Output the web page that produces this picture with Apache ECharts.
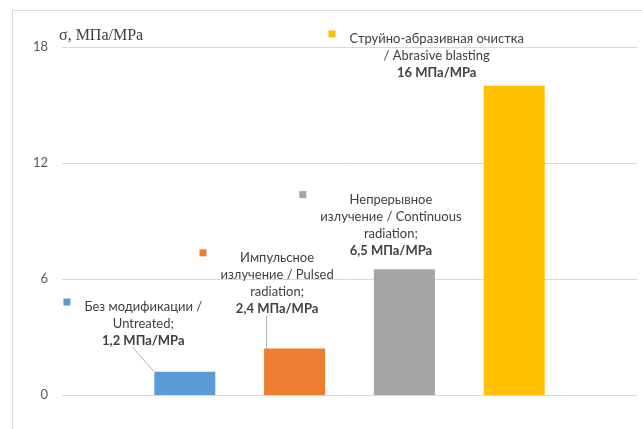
<!DOCTYPE html>
<html>
<head>
<meta charset="utf-8">
<script src="https://cdn.jsdelivr.net/npm/echarts@6/dist/echarts.min.js"></script>
<style>html,body{margin:0;padding:0;background:#fff;}#c{width:642px;height:429px;}</style>
</head>
<body>
<div id="c"></div>
<script>
const categories = [''];
const seriesNames = [
  'Без модификации / Untreated',
  'Импульсное излучение / Pulsed radiation',
  'Непрерывное излучение / Continuous radiation',
  'Струйно-абразивная очистка / Abrasive blasting'
];
const values = [1.2, 2.4, 6.5, 16];
const nameLines = [
  ['Без модификации /', 'Untreated;'],
  ['Импульсное', 'излучение / Pulsed', 'radiation;'],
  ['Непрерывное', 'излучение / Continuous', 'radiation;'],
  ['Струйно-абразивная очистка', '/ Abrasive blasting']
];
const valueLabels = ['1,2 МПа/MPa', '2,4 МПа/MPa', '6,5 МПа/MPa', '16 МПа/MPa'];
const yMin = 0, yMax = 18, yStep = 6;
const axisTitle = 'σ, МПа/MPa';

const colors = ['#5B9BD5', '#ED7D31', '#A5A5A5', '#FFC000'];
const layouts = [
  { dx: -52, dy: -15, line: true },
  { dx: -28, dy: -24, line: true },
  { dx: -24, dy: -3, line: false },
  { dx: -88, dy: 3, line: false }
];

function makeLabel(i) {
  const lines = [];
  nameLines[i].forEach((t, k) => {
    lines.push((k === 0 ? '{sq|}' : '{sp|}') + '{g|}{t|' + t + '}');
  });
  lines.push('{sp|}{g|}{b|' + valueLabels[i] + '}');
  return lines.join('\n');
}

const series = values.map((v, i) => ({
  name: seriesNames[i],
  type: 'bar',
  data: [v],
  barWidth: 61,
  barGap: '80%',
  itemStyle: { color: colors[i] },
  label: {
    show: true,
    position: 'top',
    distance: 5,
    formatter: () => makeLabel(i),
    rich: {
      sq: { width: 7, height: 7, backgroundColor: colors[i], align: 'left', verticalAlign: 'top', lineHeight: 17 },
      sp: { width: 7, height: 7, align: 'left', lineHeight: 17 },
      g: { width: 14, align: 'left', lineHeight: 17 },
      t: { fontFamily: 'Lato', fontSize: 13, color: '#404040', align: 'center', lineHeight: 17 },
      b: { fontFamily: 'Lato', fontSize: 13, color: '#404040', fontWeight: 'bold', align: 'center', lineHeight: 17 }
    }
  },
  labelLayout: function (p) {
    return {
      x: p.labelRect.x + p.labelRect.width / 2 + layouts[i].dx,
      y: p.labelRect.y + p.labelRect.height / 2 + layouts[i].dy,
      align: 'center',
      verticalAlign: 'middle'
    };
  },
  labelLine: { show: layouts[i].line, lineStyle: { color: '#B4B4B4', width: 1 } }
}));

const chart = echarts.init(document.getElementById('c'));
chart.setOption({
  animation: false,
  backgroundColor: '#fff',
  graphic: [{
    type: 'rect', silent: true, z: -1,
    shape: { x: 12.5, y: 10.5, width: 700, height: 500 },
    style: { fill: 'none', stroke: '#D9D9D9', lineWidth: 1 }
  }],
  title: {
    text: axisTitle, left: 54, top: 23,
    textStyle: { fontFamily: 'Liberation Serif', fontSize: 16, fontWeight: 'normal', color: '#404040' }
  },
  grid: { left: 62, right: 5, top: 47, bottom: 34 },
  xAxis: {
    type: 'category', data: categories,
    axisLine: { show: false }, axisTick: { show: false }, axisLabel: { show: false }
  },
  yAxis: {
    type: 'value', min: yMin, max: yMax, interval: yStep,
    axisLine: { show: false }, axisTick: { show: false },
    axisLabel: { fontFamily: 'Lato', fontSize: 13, color: '#595959', margin: 14 },
    splitLine: { lineStyle: { color: '#D9D9D9', width: 1 } }
  },
  series: series
});
</script>
</body>
</html>
